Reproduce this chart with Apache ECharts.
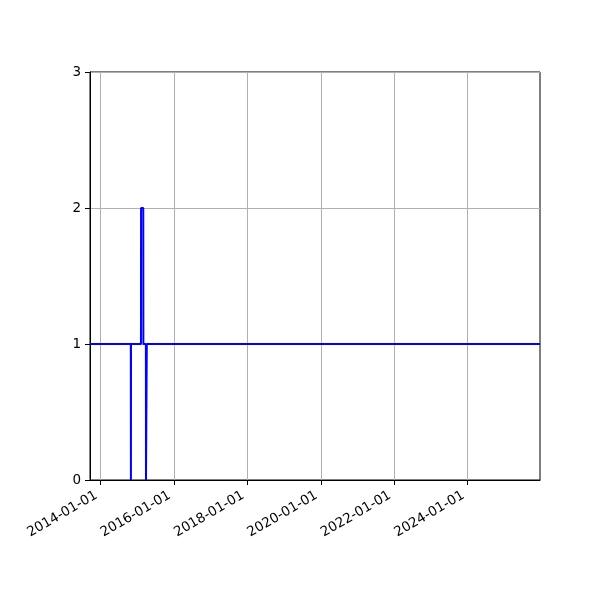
<!DOCTYPE html>
<html>
<head>
<meta charset="utf-8">
<script src="https://cdn.jsdelivr.net/npm/echarts@6/dist/echarts.min.js"></script>
<style>html,body{margin:0;padding:0;background:#fff}#c{width:600px;height:600px}</style>
</head>
<body>
<div id="c"></div>
<script>
var dates = ['2013-09-17','2014-10-28','2014-10-29','2014-10-30','2015-02-06','2015-02-07','2015-03-01','2015-03-02','2015-03-27','2015-03-28','2015-04-04','2015-04-05','2025-12-20'];
var values = [1,1,0,1,1,2,2,1,1,0,0,1,1];
var tickDates = ['2014-01-01','2016-01-01','2018-01-01','2020-01-01','2022-01-01','2024-01-01'];
var yTicks = [0,1,2,3];
var xMin = '2013-09-17', xMax = '2025-12-20';

function ts(s){var p=s.split('-');return Date.UTC(+p[0],+p[1]-1,+p[2]);}
function pad(n){return n<10?'0'+n:''+n;}
function fmt(v){var d=new Date(v);return d.getUTCFullYear()+'-'+pad(d.getUTCMonth()+1)+'-'+pad(d.getUTCDate());}

var tickVals = tickDates.map(ts);
var chart = echarts.init(document.getElementById('c'), null, {renderer:'canvas'});
chart.setOption({
  animation:false,
  grid:{left:90,right:60,top:72,bottom:120,show:true,borderColor:'#000',borderWidth:1,containLabel:false},
  xAxis:{
    type:'value', min:ts(xMin), max:ts(xMax),
    axisLine:{show:true,lineStyle:{color:'#000',width:1}},
    axisTick:{show:true,length:5,lineStyle:{color:'#000'},customValues:tickVals},
    axisLabel:{customValues:tickVals,rotate:30,fontSize:13.5,color:'#000',fontFamily:'DejaVu Sans',margin:12,padding:[0,5,0,0],formatter:function(v){return fmt(v);}},
    splitLine:{show:true,lineStyle:{color:'#b0b0b0',width:1}}
  },
  yAxis:{
    type:'value', min:yTicks[0], max:yTicks[yTicks.length-1], interval:1,
    axisLine:{show:true,lineStyle:{color:'#000',width:1}},
    axisTick:{show:true,length:5,lineStyle:{color:'#000'}},
    axisLabel:{fontSize:13.5,color:'#000',fontFamily:'DejaVu Sans',margin:9},
    splitLine:{show:true,lineStyle:{color:'#b0b0b0',width:1}}
  },
  series:[{
    type:'line', showSymbol:false, symbol:'none',
    data: dates.map(function(d,i){return [ts(d),values[i]];}),
    lineStyle:{color:'#0000ff',width:2}, itemStyle:{color:'#0000ff'}
  }]
});
</script>
</body>
</html>
